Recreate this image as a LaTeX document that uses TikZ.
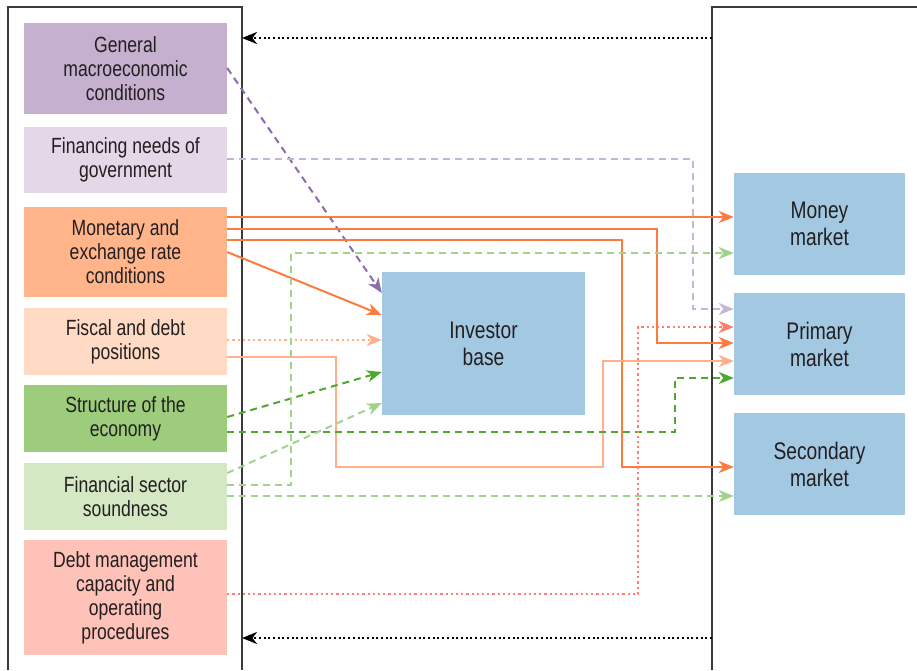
\documentclass[tikz,border=0pt]{standalone}
\usepackage{fontspec}
\setmainfont{Liberation Sans}[FakeStretch=0.8]
\usetikzlibrary{arrows.meta}

% palette
\definecolor{ink}{HTML}{231F20}
\definecolor{framec}{HTML}{3A3A3A}
\definecolor{genfill}{HTML}{C6B0D0}
\definecolor{finfill}{HTML}{E3D7E8}
\definecolor{monfill}{HTML}{FFB48A}
\definecolor{fisfill}{HTML}{FFDAC4}
\definecolor{strfill}{HTML}{9DCD7C}
\definecolor{fsdfill}{HTML}{D3E8C3}
\definecolor{debtfill}{HTML}{FFC2B8}
\definecolor{bluefill}{HTML}{A2C8E2}
\definecolor{genline}{HTML}{8C6BAE}
\definecolor{finline}{HTML}{C8B4D8}
\definecolor{monline}{HTML}{FC7B3F}
\definecolor{fisline}{HTML}{FFAF8A}
\definecolor{strline}{HTML}{4EA72E}
\definecolor{fsdline}{HTML}{A3D38A}
\definecolor{debtline}{HTML}{FA7F70}

\tikzset{
  srcbox/.style={rectangle, inner sep=0pt, minimum width=203pt, align=center,
    text=ink, font=\fontsize{22}{24}\selectfont},
  mktbox/.style={rectangle, inner sep=0pt, fill=bluefill, align=center,
    text=ink, font=\fontsize{24}{27}\selectfont},
  frameline/.style={draw=framec, line width=1.3pt},
  tip/.style={-{Stealth[length=15pt,width=12pt,inset=4.5pt]}},
  link/.style={tip, line width=2pt},
  dashlink/.style={link, dash pattern=on 7pt off 5pt},
  dotlink/.style={link, line width=2.4pt, dash pattern=on 2.2pt off 3pt},
  genarrow/.style={dashlink, draw=genline},
  finarrow/.style={dashlink, draw=finline},
  monarrow/.style={link, draw=monline},
  fisarrow/.style={link, draw=fisline},
  fisdots/.style={dotlink, draw=fisline},
  strarrow/.style={dashlink, draw=strline},
  fsdarrow/.style={dashlink, draw=fsdline},
  debtdots/.style={dotlink, draw=debtline},
  feedback/.style={tip, draw=black, line width=2.2pt,
    dash pattern=on 2pt off 2.7pt},
}

\begin{document}
\begin{tikzpicture}[x=1pt, y=-1pt]
\useasboundingbox (0,0) rectangle (917,670);

% outer frames
\draw[frameline] (8,670) -- (8,7) -- (242,7) -- (242,670);
\draw[frameline] (712,670) -- (712,7) -- (917,7);
\coordinate (lframe) at (242,0);
\coordinate (rframe) at (712,0);

% source factors
\node[srcbox, fill=genfill, minimum height=91pt] (gen) at (125.5,68.5)
  {General\\macroeconomic\\conditions};
\node[srcbox, fill=finfill, minimum height=66pt] (fin) at (125.5,160)
  {Financing needs of\\government};
\node[srcbox, fill=monfill, minimum height=90pt] (mon) at (125.5,252)
  {Monetary and\\exchange rate\\conditions};
\node[srcbox, fill=fisfill, minimum height=67pt] (fis) at (125.5,341.5)
  {Fiscal and debt\\positions};
\node[srcbox, fill=strfill, minimum height=67pt] (str) at (125.5,418.5)
  {Structure of the\\economy};
\node[srcbox, fill=fsdfill, minimum height=67pt] (fsd) at (125.5,496.5)
  {Financial sector\\soundness};
\node[srcbox, fill=debtfill, minimum height=115pt] (debt) at (125.5,597.5)
  {Debt management\\capacity and\\operating\\procedures};

% investor base and markets
\node[mktbox, minimum width=203pt, minimum height=143pt] (inv) at (483.5,343.5)
  {Investor\\base};
\node[mktbox, minimum width=171pt, minimum height=102pt] (mm) at (819.5,224)
  {Money\\market};
\node[mktbox, minimum width=171pt, minimum height=102pt] (pri) at (819.5,344)
  {Primary\\market};
\node[mktbox, minimum width=171pt, minimum height=102pt] (sec) at (819.5,464)
  {Secondary\\market};

% feedback from the markets
\draw[feedback] (rframe |- 0,38) -- (lframe |- 0,38);
\draw[feedback] (rframe |- 0,638) -- (lframe |- 0,638);

% general conditions
\draw[genarrow] (gen.east |- 0,68) -- (inv.west |- 0,293);

% financing needs
\draw[finarrow] (fin.east |- 0,159) -| (693,309) -- (pri.west |- 0,309);

% monetary and exchange rate conditions
\draw[monarrow] (mon.east |- 0,217) -- (mm.west |- 0,217);
\draw[monarrow] (mon.east |- 0,229) -| (657,343) -- (pri.west |- 0,343);
\draw[monarrow] (mon.east |- 0,240) -| (622,467) -- (sec.west |- 0,467);
\draw[monarrow] (mon.east |- 0,252) -- (inv.west |- 0,315);

% fiscal and debt positions
\draw[fisdots] (fis.east |- 0,340) -- (inv.west |- 0,340);
\draw[fisarrow] (fis.east |- 0,357) -| (336,467) -| (603,361) -- (pri.west |- 0,361);

% structure of the economy
\draw[strarrow] (str.east |- 0,417) -- (inv.west |- 0,372);
\draw[strarrow] (str.east |- 0,432) -| (675,378) -- (pri.west |- 0,378);

% financial sector soundness
\draw[fsdarrow] (fsd.east |- 0,473) -- (inv.west |- 0,403);
\draw[fsdarrow] (fsd.east |- 0,485) -| (291,253) -- (mm.west |- 0,253);
\draw[fsdarrow] (fsd.east |- 0,496) -- (sec.west |- 0,496);

% debt management capacity
\draw[debtdots] (debt.east |- 0,594) -| (638,327) -- (pri.west |- 0,327);
\end{tikzpicture}
\end{document}
